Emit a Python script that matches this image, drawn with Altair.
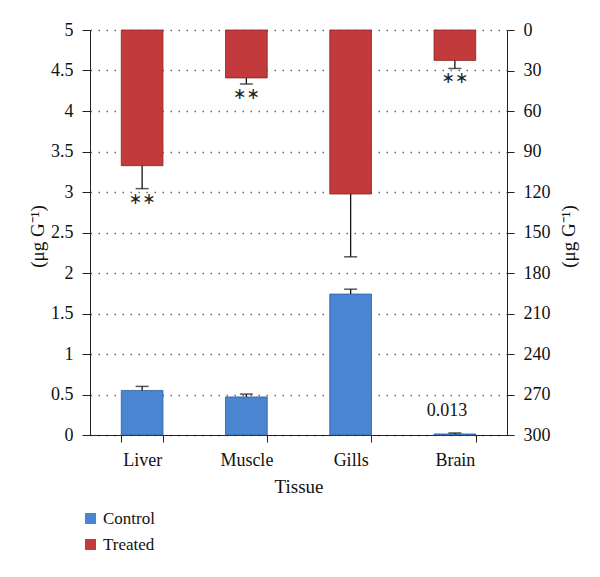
import altair as alt
import pandas as pd

tissues = ["Liver", "Muscle", "Gills", "Brain"]
control_mean = [0.55, 0.47, 1.74, 0.013]
control_err = [0.05, 0.035, 0.06, 0.012]
control_labels = ["", "", "", "0.013"]
treated_mean = [100.5, 35.5, 121.5, 22.5]
treated_err = [17.0, 4.5, 46.5, 6.0]
treated_labels = ["∗∗", "∗∗", "", "∗∗"]

left_ticks = [0, 0.5, 1, 1.5, 2, 2.5, 3, 3.5, 4, 4.5, 5]
right_ticks = [0, 30, 60, 90, 120, 150, 180, 210, 240, 270, 300]
groups = ["Control", "Treated"]
colors = ["#4a85d2", "#c23a3c"]
FONT = "Liberation Serif"

ctrl = pd.DataFrame({
    "Tissue": tissues,
    "value": control_mean,
    "hi": [m + e for m, e in zip(control_mean, control_err)],
    "label": control_labels,
    "Group": "Control",
})
trt = pd.DataFrame({
    "Tissue": tissues,
    "value": treated_mean,
    "hi": [m + e for m, e in zip(treated_mean, treated_err)],
    "label": treated_labels,
    "Group": "Treated",
})

x_enc = alt.X(
    "Tissue:N",
    sort=tissues,
    scale=alt.Scale(domain=tissues, paddingInner=0.6, paddingOuter=0.3),
    axis=alt.Axis(
        title="Tissue", labelAngle=0, tickBand="extent", tickSize=7,
        labelPadding=9, titlePadding=8, domainColor="#222", tickColor="#222",
        labelColor="#111", titleColor="#111", grid=False,
    ),
)

color_enc = alt.Color(
    "Group:N",
    scale=alt.Scale(domain=groups, range=colors),
    legend=alt.Legend(
        title=None, orient="none", legendX=-8, legendY=480, direction="vertical",
        symbolType="square", symbolSize=120, labelFontSize=17, labelFont=FONT,
        labelColor="#111", rowPadding=8, symbolStrokeWidth=0,
    ),
)

yl_scale = alt.Scale(domain=[0, 5], nice=False, zero=True)
yl_axis = alt.Axis(
    title="(μg G⁻¹)", values=left_ticks, format="~g", tickSize=8, grid=True,
    gridDash=[1.5, 6.5], gridColor="#666", gridWidth=1.3,
    domainColor="#222", tickColor="#222", labelColor="#111", titleColor="#111",
    labelPadding=9, titleX=-53, titleY=206, titleAngle=270,
    titleAlign="center", titleBaseline="middle",
)

ctrl_bars = alt.Chart(ctrl).mark_bar(stroke="#2f5f9e", strokeWidth=0.8).encode(
    x=x_enc,
    y=alt.Y("value:Q", scale=yl_scale, axis=yl_axis),
    color=color_enc,
)
ctrl_err = alt.Chart(ctrl).mark_rule(color="#111", strokeWidth=1.3).encode(
    x=x_enc, y="value:Q", y2="hi:Q"
)
ctrl_cap = alt.Chart(ctrl).mark_tick(color="#111", thickness=1.5, size=13).encode(
    x=x_enc, y="hi:Q"
)
ctrl_text = alt.Chart(ctrl).mark_text(
    font=FONT, fontSize=18, color="#111", baseline="bottom", dy=-14, dx=-8
).encode(x=x_enc, y="value:Q", text="label:N")

left = alt.layer(ctrl_bars, ctrl_err, ctrl_cap, ctrl_text)

yr_scale = alt.Scale(domain=[0, 300], nice=False, reverse=True)
yr_axis = alt.Axis(
    title="(μg G⁻¹)", orient="right", values=right_ticks, tickSize=7, grid=False,
    domainColor="#222", tickColor="#222", labelColor="#111", titleColor="#111",
    labelPadding=9, titleX=61, titleY=206, titleAngle=270,
    titleAlign="center", titleBaseline="middle",
)

trt_bars = alt.Chart(trt).mark_bar(stroke="#8e2426", strokeWidth=0.8).encode(
    x=x_enc,
    y=alt.Y("value:Q", scale=yr_scale, axis=yr_axis),
    color=color_enc,
)
trt_err = alt.Chart(trt).mark_rule(color="#111", strokeWidth=1.3).encode(
    x=x_enc, y="value:Q", y2="hi:Q"
)
trt_cap = alt.Chart(trt).mark_tick(color="#111", thickness=1.5, size=13).encode(
    x=x_enc, y="hi:Q"
)
trt_text = alt.Chart(trt).mark_text(
    font="DejaVu Sans", fontSize=16, color="#222", baseline="top", dy=2
).encode(x=x_enc, y="hi:Q", text="label:N")

right = alt.layer(trt_bars, trt_err, trt_cap, trt_text)

chart = alt.layer(left, right).resolve_scale(y="independent").properties(
    width=417, height=405,
    autosize=alt.AutoSizeParams(type="none"),
    padding={"left": 82, "top": 22, "right": 85, "bottom": 120},
).configure_axis(
    labelFont=FONT, titleFont=FONT, labelFontSize=18, titleFontSize=19,
    titleFontWeight="normal",
).configure_view(stroke=None).configure_legend(labelFont=FONT)

chart.save("out.html", embed_options={"renderer": "svg", "actions": False})
